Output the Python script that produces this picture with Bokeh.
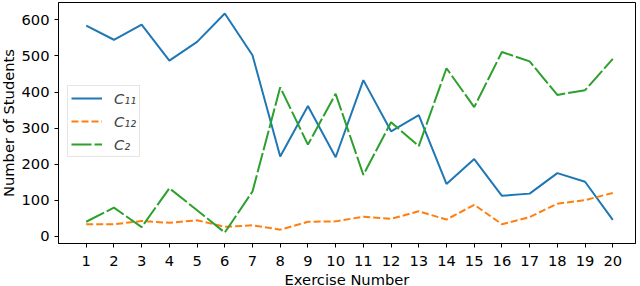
from bokeh.plotting import figure
from bokeh.models import Range1d, FixedTicker, Legend, LegendItem, ColumnDataSource
from bokeh.embed import file_html
from bokeh.resources import INLINE

exercises = list(range(1, 21))
c11 = [584, 545, 587, 487, 539, 618, 502, 221, 361, 219, 433, 291, 336, 145, 214, 112, 118, 175, 151, 45]
c12 = [33, 33, 42, 37, 44, 26, 30, 18, 40, 41, 54, 48, 69, 46, 87, 33, 53, 90, 100, 120]
c2 = [40, 79, 25, 133, 72, 10, 124, 413, 254, 395, 170, 316, 250, 466, 358, 511, 485, 392, 405, 492]
series_labels = ["C\u2081\u2081", "C\u2081\u2082", "C\u2082"]
y_ticks = [0, 100, 200, 300, 400, 500, 600]

FONT = "DejaVu Sans"
FS = "14.7px"

p = figure(width=640, height=291, output_backend="svg", toolbar_location=None,
           x_range=Range1d(0.0, 20.82), y_range=Range1d(-20.4, 648.4),
           min_border_left=61, min_border_right=2, min_border_top=2, min_border_bottom=48)
p.margin = (0, 0, -8, -3)

src = ColumnDataSource(dict(x=exercises, c11=c11, c12=c12, c2=c2))
r1 = p.line("x", "c11", source=src, line_color="#1f77b4", line_width=2)
r2 = p.line("x", "c12", source=src, line_color="#ff7f0e", line_width=2, line_dash="7 3")
r3 = p.line("x", "c2", source=src, line_color="#2ca02c", line_width=2, line_dash="20 3")

p.xgrid.visible = False
p.ygrid.visible = False
p.outline_line_color = "black"
p.outline_line_width = 1

p.xaxis.ticker = FixedTicker(ticks=exercises)
p.yaxis.ticker = FixedTicker(ticks=y_ticks)
p.xaxis.axis_label = "Exercise Number"
p.yaxis.axis_label = "Number of Students"
for ax in (p.xaxis, p.yaxis):
    ax.axis_label_text_font = FONT
    ax.axis_label_text_font_size = FS
    ax.axis_label_text_font_style = "normal"
    ax.axis_label_text_color = "black"
    ax.major_label_text_font = FONT
    ax.major_label_text_font_size = FS
    ax.major_label_text_color = "black"
    ax.major_tick_out = 4
    ax.major_tick_in = 0
    ax.minor_tick_out = 0
    ax.minor_tick_in = 0
    ax.axis_line_color = "black"
    ax.major_tick_line_color = "black"
p.xaxis.major_label_standoff = 8
p.xaxis.axis_label_standoff = 2
p.yaxis.major_label_standoff = 5
p.yaxis.axis_label_standoff = 1

legend = Legend(items=[LegendItem(label=series_labels[0], renderers=[r1]),
                       LegendItem(label=series_labels[1], renderers=[r2]),
                       LegendItem(label=series_labels[2], renderers=[r3])],
                location=(9, 86))
legend.label_text_font = FONT
legend.label_text_font_size = FS
legend.label_text_font_style = "italic"
legend.label_height = 18
legend.glyph_height = 18
legend.glyph_width = 31
legend.label_standoff = 12
legend.spacing = 5
legend.padding = 3
legend.margin = 0
legend.border_line_color = "#cccccc"
legend.border_line_width = 1
legend.background_fill_color = "white"
legend.background_fill_alpha = 0.8
p.add_layout(legend, "center")

open("out.html", "w").write(file_html(p, INLINE))
